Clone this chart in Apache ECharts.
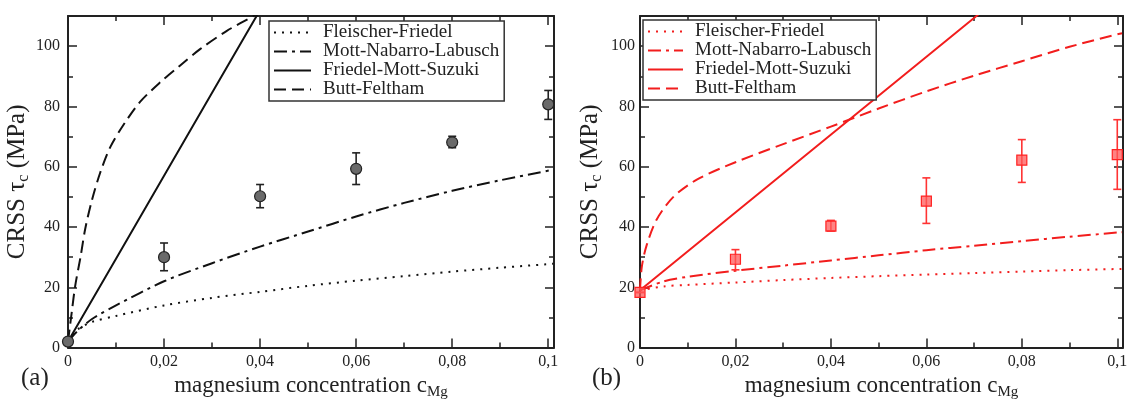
<!DOCTYPE html>
<html>
<head>
<meta charset="utf-8">
<script src="https://cdn.jsdelivr.net/npm/echarts@6/dist/echarts.min.js"></script>
<style>html,body{margin:0;padding:0;background:#fff}#c{width:1131px;height:405px}</style>
</head>
<body>
<div id="c"></div>
<script>
// ---------- data ----------
const xTickLabels = ['0', '0,02', '0,04', '0,06', '0,08', '0,1'];
const seriesNames = ['Fleischer-Friedel', 'Mott-Nabarro-Labusch', 'Friedel-Mott-Suzuki', 'Butt-Feltham'];

// panel (a)
const aFF  = [[0,2],[0.002,6],[0.005,8.5],[0.01,10.5],[0.02,14],[0.03,16.5],[0.04,18.5],[0.05,20.5],[0.06,22.2],[0.07,23.7],[0.08,25.2],[0.09,26.5],[0.101,27.8]];
const aMNL = [[0,2],[0.002,5.5],[0.005,9.5],[0.01,14],[0.02,22],[0.03,28],[0.04,33.5],[0.05,38.5],[0.06,43.5],[0.07,48],[0.08,52],[0.09,55.5],[0.101,59]];
const aFMS = [[0,2],[0.01,29.5],[0.02,57],[0.03,84.5],[0.04,112]];
const aBF  = [[0,2],[0.0008,12],[0.0015,20.5],[0.0026,30],[0.0036,39.5],[0.005,49],[0.0067,58],[0.0088,66.5],[0.0116,74],[0.015,81.5],[0.0192,88],[0.0233,93.5],[0.0275,99],[0.033,105],[0.0386,110],[0.0395,111]];
const aX    = [0, 0.02, 0.04, 0.06, 0.08, 0.1];
const aY    = [2, 30, 50.2, 59.3, 68.1, 80.7];
const aLow  = [2, 25.5, 46.4, 54.1, 66.3, 75.7];
const aHigh = [2, 34.7, 54.1, 64.6, 70.1, 85.3];

// panel (b)
const bFF  = [[0,19],[0.005,20.3],[0.01,20.8],[0.02,21.6],[0.03,22.4],[0.04,23.1],[0.05,23.7],[0.06,24.2],[0.07,24.7],[0.08,25.2],[0.09,25.7],[0.101,26.1]];
const bMNL = [[0,19],[0.005,22],[0.01,23.5],[0.02,25.5],[0.03,27.2],[0.04,28.9],[0.05,30.6],[0.06,32.3],[0.07,33.8],[0.08,35.3],[0.09,36.8],[0.101,38.3]];
const bFMS = [[0,19],[0.0705,110],[0.072,112]];
const bBF  = [[0,19],[0.0004,27],[0.0014,34],[0.0035,42.5],[0.007,50],[0.012,55.8],[0.02,61.5],[0.03,67.5],[0.04,73.3],[0.05,79.3],[0.06,85],[0.07,90.2],[0.08,95],[0.09,99.8],[0.101,104.3]];
const bX    = [0, 0.02, 0.04, 0.06, 0.08, 0.1];
const bY    = [18.3, 29.3, 40.3, 48.6, 62.2, 64];
const bLow  = [18.3, 25.8, 38.7, 41.2, 54.8, 52.5];
const bHigh = [18.3, 32.5, 42.2, 56.3, 69, 75.6];

// ---------- chart ----------
const FONT = '"Liberation Serif", "Times New Roman", serif';
const X_MAX = 0.1012, Y_MAX = 110;
const INK = '#222';

function fmtX(v) {
  const k = v / 0.02;
  const r = Math.round(k);
  if (Math.abs(k - r) > 1e-6 || r < 0 || r >= xTickLabels.length) return '';
  return xTickLabels[r];
}
function fmtY(v) {
  if (v % 20 !== 0 || v > 100) return '';
  return String(v);
}

const xNameRich = {
  t: {fontFamily: FONT, fontSize: 23, color: INK},
  s: {fontFamily: FONT, fontSize: 15, color: INK, padding: [13, 0, 0, 0]}
};
const yNameRich = {
  t: {fontFamily: FONT, fontSize: 25, color: INK},
  s: {fontFamily: FONT, fontSize: 16, color: INK, padding: [13, 0, 0, 0]}
};

function xAxes(gi) {
  const base = {gridIndex: gi, type: 'value', min: 0, max: X_MAX, splitLine: {show: false}};
  return [
    Object.assign({}, base, {position: 'bottom', interval: 0.02,
      axisLine: {show: true, onZero: false, lineStyle: {color: INK, width: 2}},
      axisTick: {show: true, inside: true, length: 9, lineStyle: {color: INK, width: 1.5}},
      axisLabel: {margin: 6, fontFamily: FONT, fontSize: 16, color: INK, formatter: fmtX, showMaxLabel: true},
      name: '{t|magnesium concentration c}{s|Mg}', nameLocation: 'middle', nameGap: 20,
      nameTextStyle: {rich: xNameRich}}),
    Object.assign({}, base, {position: 'bottom', interval: 0.01,
      axisLine: {show: false, onZero: false},
      axisTick: {show: true, inside: true, length: 5, lineStyle: {color: INK, width: 1.5}},
      axisLabel: {show: false}}),
    Object.assign({}, base, {position: 'top', interval: 0.02,
      axisLine: {show: true, onZero: false, lineStyle: {color: INK, width: 2}},
      axisTick: {show: true, inside: true, length: 9, lineStyle: {color: INK, width: 1.5}},
      axisLabel: {show: false}}),
    Object.assign({}, base, {position: 'top', interval: 0.01,
      axisLine: {show: false, onZero: false},
      axisTick: {show: true, inside: true, length: 5, lineStyle: {color: INK, width: 1.5}},
      axisLabel: {show: false}})
  ];
}
function yAxes(gi, labelMargin) {
  const base = {gridIndex: gi, type: 'value', min: 0, max: Y_MAX, splitLine: {show: false}};
  return [
    Object.assign({}, base, {position: 'left', interval: 20,
      axisLine: {show: true, onZero: false, lineStyle: {color: INK, width: 2}},
      axisTick: {show: true, inside: true, length: 9, lineStyle: {color: INK, width: 1.5}},
      axisLabel: {margin: labelMargin, fontFamily: FONT, fontSize: 16, color: INK, formatter: fmtY},
      name: '{t|CRSS τ}{s|c}{t| (MPa)}', nameLocation: 'middle', nameGap: 35,
      nameTextStyle: {rich: yNameRich}}),
    Object.assign({}, base, {position: 'left', interval: 10,
      axisLine: {show: false, onZero: false},
      axisTick: {show: true, inside: true, length: 5, lineStyle: {color: INK, width: 1.5}},
      axisLabel: {show: false}}),
    Object.assign({}, base, {position: 'right', interval: 20,
      axisLine: {show: true, onZero: false, lineStyle: {color: INK, width: 2}},
      axisTick: {show: true, inside: true, length: 9, lineStyle: {color: INK, width: 1.5}},
      axisLabel: {show: false}}),
    Object.assign({}, base, {position: 'right', interval: 10,
      axisLine: {show: false, onZero: false},
      axisTick: {show: true, inside: true, length: 5, lineStyle: {color: INK, width: 1.5}},
      axisLabel: {show: false}})
  ];
}

const dashTypes = [[2, 6], [13, 5, 3, 5], 'solid', [12, 6]];
const smoothing = [0.3, 0.3, false, 0.3];

function lineSeries(name, data, axisIdx, color, dash, smooth) {
  return {
    name: name, type: 'line', xAxisIndex: axisIdx, yAxisIndex: axisIdx,
    data: data, symbol: 'none', smooth: smooth,
    lineStyle: {color: color, width: 2, type: dash, cap: 'butt', join: 'round'},
    itemStyle: {color: color}, z: 3, silent: true
  };
}
function errSeries(name, xs, lo, hi, axisIdx, color) {
  return {
    name: name, type: 'custom', xAxisIndex: axisIdx, yAxisIndex: axisIdx, clip: false, z: 4, silent: true,
    data: xs.map((x, i) => [x, lo[i], hi[i]]),
    encode: {x: 0, y: [1, 2]},
    renderItem: function (params, api) {
      const x = api.value(0);
      const p1 = api.coord([x, api.value(2)]);
      const p2 = api.coord([x, api.value(1)]);
      const w = 4;
      const st = {stroke: color, lineWidth: 1.6};
      return {type: 'group', children: [
        {type: 'line', shape: {x1: p1[0], y1: p1[1], x2: p2[0], y2: p2[1]}, style: st},
        {type: 'line', shape: {x1: p1[0] - w, y1: p1[1], x2: p1[0] + w, y2: p1[1]}, style: st},
        {type: 'line', shape: {x1: p2[0] - w, y1: p2[1], x2: p2[0] + w, y2: p2[1]}, style: st}
      ]};
    }
  };
}

const aLines = [aFF, aMNL, aFMS, aBF];
const bLines = [bFF, bMNL, bFMS, bBF];
const series = [];
aLines.forEach((d, i) => series.push(lineSeries(seriesNames[i], d, 0, '#111', dashTypes[i], smoothing[i])));
bLines.forEach((d, i) => series.push(lineSeries(seriesNames[i] + ' (b)', d, 4, '#f21d1d', dashTypes[i], smoothing[i])));
series.push(errSeries('errA', aX, aLow, aHigh, 0, '#222'));
series.push(errSeries('errB', bX, bLow, bHigh, 4, '#f33'));
series.push({name: 'ptsA', type: 'scatter', xAxisIndex: 0, yAxisIndex: 0, clip: false, z: 5, silent: true,
  data: aX.map((x, i) => [x, aY[i]]), symbol: 'circle', symbolSize: 11,
  itemStyle: {color: '#6a6a6a', borderColor: '#222', borderWidth: 1.2, opacity: 1}});
series.push({name: 'ptsB', type: 'scatter', xAxisIndex: 4, yAxisIndex: 4, clip: false, z: 5, silent: true,
  data: bX.map((x, i) => [x, bY[i]]), symbol: 'rect', symbolSize: 10,
  itemStyle: {color: 'rgba(255,90,90,0.75)', borderColor: '#f22', borderWidth: 1.2, opacity: 1}});

function legendCfg(left, top, names, w, gapPad) {
  return {
    left: left, top: top, orient: 'vertical', itemGap: 0, itemWidth: w, itemHeight: 18,
    padding: [2, 5, 2, 4], borderColor: '#333', borderWidth: 1.5, backgroundColor: '#fff',
    selectedMode: false, data: names,
    itemStyle: {color: 'rgba(0,0,0,0)', borderWidth: 0, opacity: 0},
    formatter: n => n.replace(' (b)', ''),
    textStyle: {fontFamily: FONT, fontSize: 19, color: INK, lineHeight: 18, padding: [0, 0, 0, gapPad]}
  };
}

const option = {
  animation: false,
  backgroundColor: '#fff',
  grid: [
    {left: 68, top: 16, width: 486, height: 341},
    {left: 640, top: 16, width: 483, height: 341}
  ],
  xAxis: xAxes(0).concat(xAxes(1)),
  yAxis: yAxes(0, 8).concat(yAxes(1, 5)),
  legend: [
    legendCfg(269, 21, seriesNames, 37, 7),
    legendCfg(643, 20, seriesNames.map(n => n + ' (b)'), 35, 7)
  ],
  title: [
    {text: '(a)', left: 21, top: 366, padding: 0, textStyle: {fontFamily: FONT, fontSize: 25, fontWeight: 'normal', color: INK}},
    {text: '(b)', left: 592, top: 366, padding: 0, textStyle: {fontFamily: FONT, fontSize: 25, fontWeight: 'normal', color: INK}}
  ],
  series: series
};

const chart = echarts.init(document.getElementById('c'), null, {renderer: 'canvas'});
chart.setOption(option);
</script>
</body>
</html>
